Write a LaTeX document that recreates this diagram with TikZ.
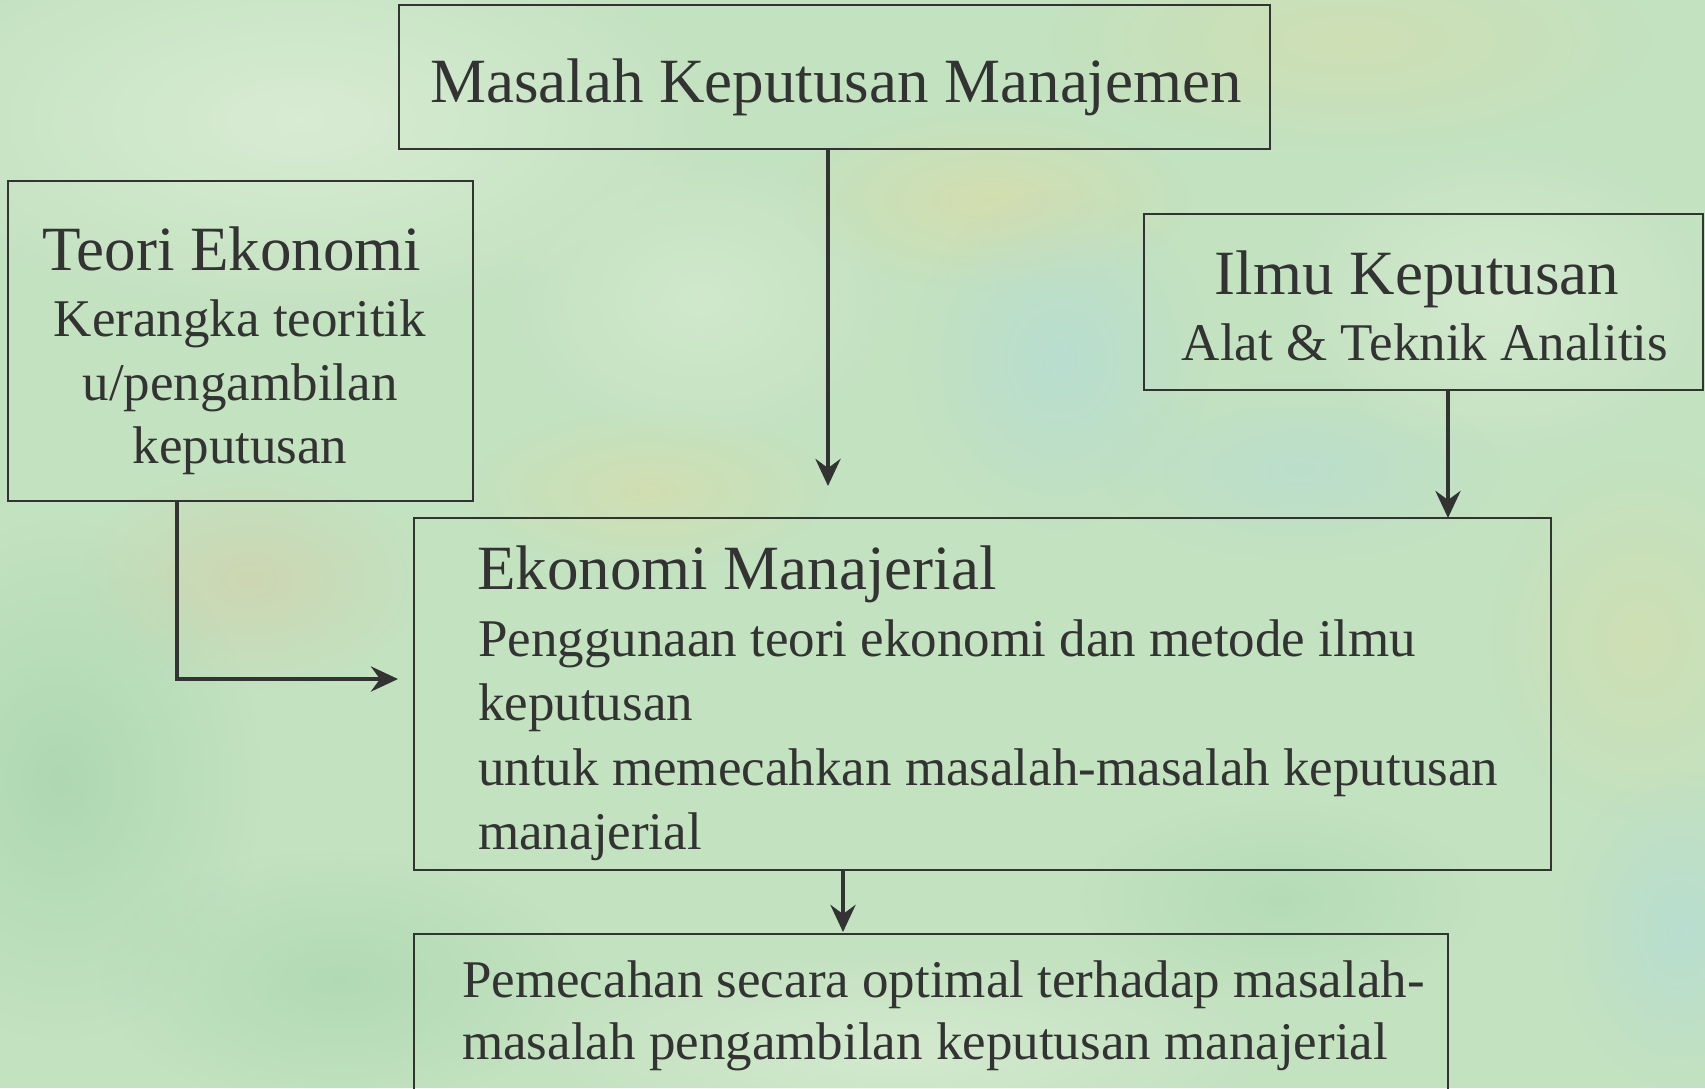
\documentclass[tikz,border=0pt]{standalone}
\usepackage{fontspec}
\setmainfont{Liberation Serif}
\usetikzlibrary{arrows.meta,fadings}
\definecolor{ink}{RGB}{51,51,51}
\definecolor{bgbase}{RGB}{195,226,192}
\definecolor{ylw}{RGB}{218,220,168}
\definecolor{tan}{RGB}{214,204,168}
\definecolor{blu}{RGB}{178,218,218}
\definecolor{grn}{RGB}{160,210,168}
\definecolor{lgt}{RGB}{222,238,216}
\tikzfading[name=fuzzy, inner color=transparent!0, outer color=transparent!100]
\tikzset{
  boxnode/.style={draw=ink, line width=2.3pt, inner sep=0pt, outer sep=0pt, anchor=north west},
  headtxt/.style={text=ink, inner sep=0pt, font=\fontsize{63}{70}\selectfont},
  bodytxt/.style={text=ink, inner sep=0pt, font=\fontsize{53}{60}\selectfont},
  arr/.style={draw=ink, line width=4.5pt, -{Stealth[length=27pt,width=25pt,inset=9pt]}},
  blob/.style={path fading=fuzzy}
}
\begin{document}
\begin{tikzpicture}[x=1pt,y=-1pt]
\useasboundingbox (0,0) rectangle (1705,1088);
\clip (0,0) rectangle (1705,1088);
% background
\fill[bgbase] (0,0) rectangle (1705,1088);
\fill[lgt, blob, opacity=0.8] (300,120) ellipse [x radius=420, y radius=200];
\fill[ylw, blob, opacity=0.7] (990,200) ellipse [x radius=200, y radius=90];
\fill[ylw, blob, opacity=0.5] (1350,40) ellipse [x radius=300, y radius=110];
\fill[tan, blob, opacity=0.55] (250,580) ellipse [x radius=170, y radius=110];
\fill[ylw, blob, opacity=0.6] (650,490) ellipse [x radius=180, y radius=80];
\fill[blu, blob, opacity=0.6] (1060,360) ellipse [x radius=150, y radius=170];
\fill[blu, blob, opacity=0.45] (1300,470) ellipse [x radius=200, y radius=90];
\fill[ylw, blob, opacity=0.5] (1640,640) ellipse [x radius=150, y radius=180];
\fill[blu, blob, opacity=0.6] (1680,930) ellipse [x radius=120, y radius=160];
\fill[grn, blob, opacity=0.6] (60,780) ellipse [x radius=200, y radius=260];
\fill[grn, blob, opacity=0.5] (340,980) ellipse [x radius=240, y radius=130];
\fill[lgt, blob, opacity=0.6] (900,1050) ellipse [x radius=380, y radius=100];
\fill[grn, blob, opacity=0.4] (1280,900) ellipse [x radius=200, y radius=100];
\fill[lgt, blob, opacity=0.6] (1500,300) ellipse [x radius=220, y radius=160];
\fill[lgt, blob, opacity=0.5] (700,300) ellipse [x radius=200, y radius=150];

% boxes
\node[boxnode, minimum width=871pt, minimum height=144pt] (mas) at (399,5) {};
\node[boxnode, minimum width=465pt, minimum height=320pt] (teori) at (8,181) {};
\node[boxnode, minimum width=559pt, minimum height=176pt] (ilmu) at (1144,214) {};
\node[boxnode, minimum width=1137pt, minimum height=352pt] (eko) at (414,518) {};
\node[boxnode, minimum width=1034pt, minimum height=200pt] (pem) at (414,934) {};

% texts
\node[headtxt, anchor=base] (masT) at (836,102) {Masalah Keputusan Manajemen};

\node[headtxt, anchor=base] (teoriT) at (232,270) {Teori Ekonomi};
\node[bodytxt, anchor=base] (teori1) at (240,336) {Kerangka teoritik};
\node[bodytxt, anchor=base] (teori2) at (240,400) {u/pengambilan};
\node[bodytxt, anchor=base] (teori3) at (240,463) {keputusan};

\node[headtxt, anchor=base] (ilmuT) at (1417,294) {Ilmu Keputusan};
\node[bodytxt, anchor=base] (ilmu1) at (1425,360) {Alat \& Teknik Analitis};

\node[headtxt, anchor=base west] (ekoT) at (477,589) {Ekonomi Manajerial};
\node[bodytxt, anchor=base west] (eko1) at (478,656) {Penggunaan teori ekonomi dan metode ilmu};
\node[bodytxt, anchor=base west] (eko2) at (478,720) {keputusan};
\node[bodytxt, anchor=base west] (eko3) at (478,785) {untuk memecahkan masalah-masalah keputusan};
\node[bodytxt, anchor=base west] (eko4) at (478,849) {manajerial};

\node[bodytxt, anchor=base west] (pem1) at (462,997) {Pemecahan secara optimal terhadap masalah-};
\node[bodytxt, anchor=base west] (pem2) at (462,1059) {masalah pengambilan keputusan manajerial};

% connectors
\coordinate (masEnd) at (828,486);
\coordinate (ilmuX) at (1448,0);
\coordinate (teoriX) at (177,0);
\coordinate (teoriEnd) at (398,679);
\coordinate (ekoX) at (843,0);
\draw[arr] (mas.south -| masEnd) -- (masEnd);
\draw[arr] (ilmu.south -| ilmuX) -- (eko.north -| ilmuX);
\draw[arr] (teori.south -| teoriX) |- (teoriEnd);
\draw[arr, shorten >=2pt] (eko.south -| ekoX) -- (pem.north -| ekoX);
\end{tikzpicture}
\end{document}
